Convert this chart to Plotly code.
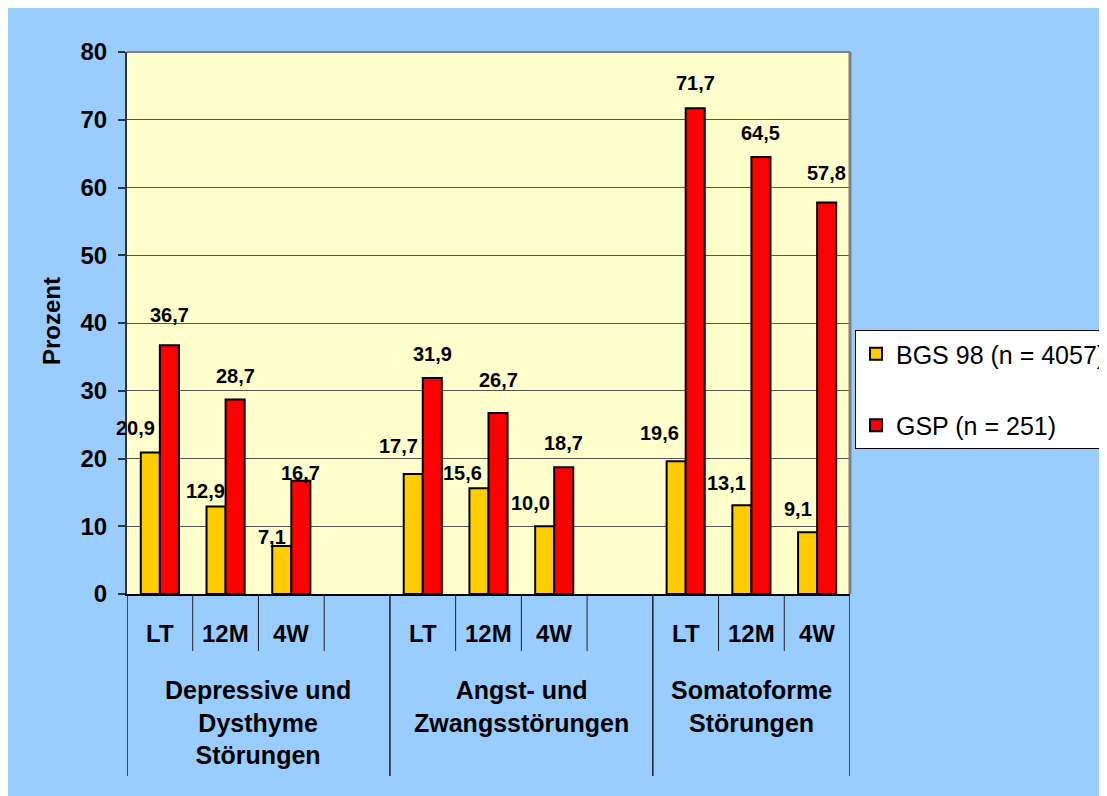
import plotly.graph_objects as go

# ---------------- data ----------------
groups = ["Depressive und<br>Dysthyme<br>Störungen",
          "Angst- und<br>Zwangsstörungen",
          "Somatoforme<br>Störungen"]
periods = ["LT", "12M", "4W"]
bgs98 = [20.9, 12.9, 7.1, 17.7, 15.6, 10.0, 19.6, 13.1, 9.1]
gsp251 = [36.7, 28.7, 16.7, 31.9, 26.7, 18.7, 71.7, 64.5, 57.8]
series_names = ["BGS 98 (n = 4057)", "GSP (n = 251)"]
y_ticks = [0, 10, 20, 30, 40, 50, 60, 70, 80]
y_title = "Prozent"

# ---------------- label placement tweaks (px) ----------------
bgs_label_gap = [16, 8, 1, 20, 7, 15, 20, 14, 15]
gsp_label_gap = [22, 16, 0, 16, 25, 16, 17, 16, 21]
bgs_label_dx = [-15, -11, -10, -15, -16, -14, -17, -15, -10]
gsp_label_dx = [0, 0, 0, 0, 0, 0, 0, 0, 0]

# ---------------- styles ----------------
FONT = "Liberation Sans, Arial, sans-serif"
C_BGS = "#FFCC00"
C_GSP = "#FF0000"
BLUE = "#99CCFF"
PLOTBG = "#FFFFCC"

SLOTS = 4  # slots per group (3 periods + spacer)
xpos = [g * SLOTS + p for g in range(len(groups)) for p in range(len(periods))]
n_slots = (len(groups) - 1) * SLOTS + len(periods)
xmin, xmax = -0.5, n_slots - 0.5
BW = 0.29

OFF = 8  # page body margin
W, H = 1107 - OFF, 796 - OFF
# plot area in page pixels: x 127..850, y 52..594
PL, PR, PT, PB = 127, 850, 52, 594
ML, MT = PL - OFF, PT - OFF
MR, MB = W - (PR - OFF), H - (PB - OFF)
pw = PR - PL
ph = PB - PT


def px_x(px):
    return (px - PL) / pw


def px_y(py):
    return (PB - py) / ph


def fmt(v):
    return f"{v:.1f}".replace(".", ",")


fig = go.Figure()
fig.add_trace(go.Bar(x=xpos, y=bgs98, name=series_names[0], width=BW, offset=-BW,
                     marker=dict(color=C_BGS, line=dict(color="black", width=2)),
                     legendgroup="a"))
fig.add_trace(go.Bar(x=xpos, y=gsp251, name=series_names[1], width=BW, offset=0,
                     marker=dict(color=C_GSP, line=dict(color="black", width=2)),
                     legendgroup="b"))

ann = []
for i, x in enumerate(xpos):
    ann.append(dict(x=x - BW / 2, y=bgs98[i], xref="x", yref="y", text=fmt(bgs98[i]),
                    showarrow=False, yanchor="bottom", xanchor="center",
                    yshift=bgs_label_gap[i] - 5, xshift=bgs_label_dx[i],
                    font=dict(family=FONT, size=20, color="black", weight="bold")))
    ann.append(dict(x=x + BW / 2, y=gsp251[i], xref="x", yref="y", text=fmt(gsp251[i]),
                    showarrow=False, yanchor="bottom", xanchor="center",
                    yshift=gsp_label_gap[i] - 5, xshift=gsp_label_dx[i],
                    font=dict(family=FONT, size=20, color="black", weight="bold")))

# category labels
for g in range(len(groups)):
    for p in range(len(periods)):
        ann.append(dict(x=g * SLOTS + p, y=px_y(634), xref="x", yref="paper",
                        text=periods[p], showarrow=False, yanchor="middle",
                        xanchor="center",
                        font=dict(family=FONT, size=24, color="black", weight="bold")))
    g_start = g * SLOTS - 0.5
    g_end = min(g * SLOTS + SLOTS - 0.5, xmax)
    ann.append(dict(x=(g_start + g_end) / 2, y=px_y(674), xref="x", yref="paper",
                    text=groups[g], showarrow=False, yanchor="top", xanchor="center",
                    font=dict(family=FONT, size=25, color="black", weight="bold")))

ann.append(dict(x=px_x(51), y=px_y(321), xref="paper", yref="paper", text=y_title,
                textangle=-90, showarrow=False, xanchor="center", yanchor="middle",
                font=dict(family=FONT, size=24, color="black", weight="bold")))

shapes = [
    dict(type="line", xref="paper", yref="paper", x0=0, x1=1, y0=1, y1=1,
         line=dict(color="#808080", width=2)),
    dict(type="line", xref="paper", yref="paper", x0=1, x1=1, y0=0, y1=1,
         line=dict(color="#808080", width=3)),
]
# divider lines below the axis
for k in range(n_slots + 1):
    xb = k - 0.5
    full = (k % SLOTS == 0) or k == n_slots
    shapes.append(dict(type="line", xref="x", yref="paper", x0=xb, x1=xb,
                       y0=0, y1=px_y(776) if full else px_y(651),
                       line=dict(color="#222222", width=1.5 if full else 1)))

fig.update_layout(
    width=W, height=H,
    margin=dict(l=ML, r=MR, t=MT, b=MB, autoexpand=False),
    paper_bgcolor=BLUE,
    plot_bgcolor=PLOTBG,
    barmode="overlay",
    font=dict(family=FONT, color="black"),
    xaxis=dict(range=[xmin, xmax], showgrid=False, zeroline=False,
               showticklabels=False, ticks="", showline=True,
               linecolor="black", linewidth=2),
    yaxis=dict(range=[0, 80], tickvals=y_ticks, showgrid=True, gridcolor="#555555",
               gridwidth=1, zeroline=False, showline=True, linecolor="#333333",
               linewidth=2, ticks="outside", ticklen=7, tickcolor="#333333",
               tickwidth=1.5, ticklabelstandoff=6,
               tickfont=dict(family=FONT, size=24, color="black", weight="bold")),
    legend=dict(x=px_x(855), y=px_y(330), xanchor="left", yanchor="top",
                bgcolor="white", bordercolor="black", borderwidth=1,
                traceorder="grouped", tracegroupgap=36,
                font=dict(family=FONT, size=25, color="black")),
    annotations=ann,
    shapes=shapes,
)

fig.write_html("out.html")
